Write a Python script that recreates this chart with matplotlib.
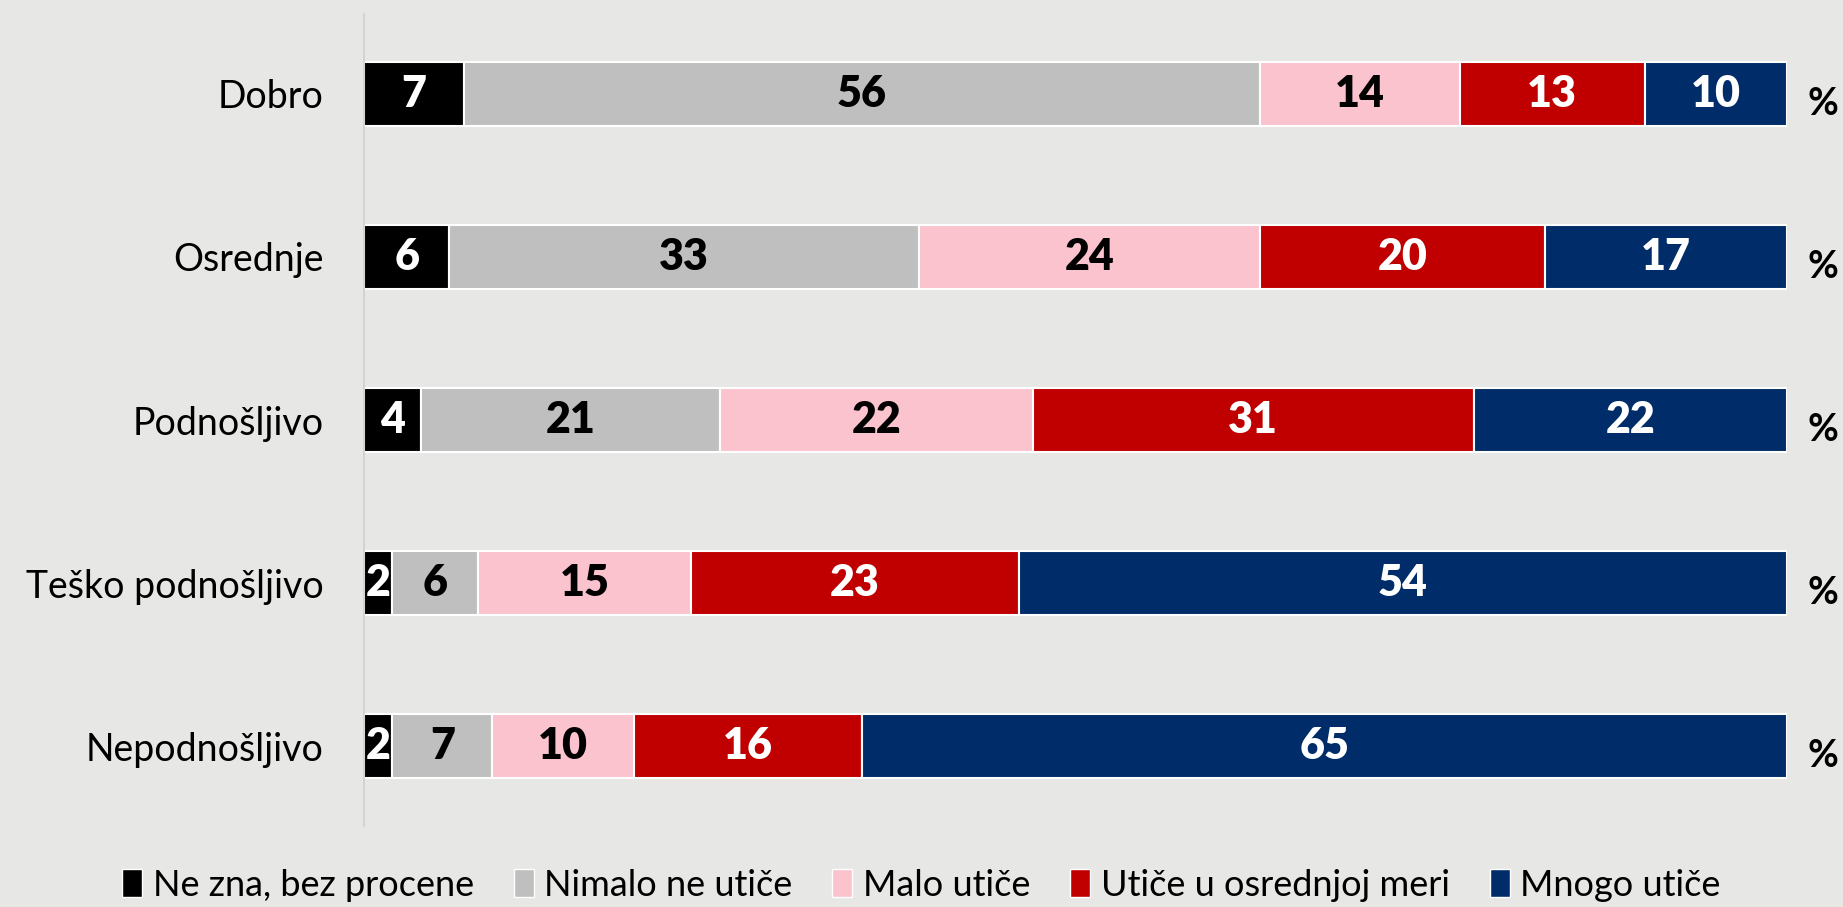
import matplotlib.pyplot as plt
import matplotlib.patches as mpatches
import numpy as np

categories = ["Dobro", "Osrednje", "Podnošljivo", "Teško podnošljivo", "Nepodnošljivo"]
series_names = ["Ne zna, bez procene", "Nimalo ne utiče", "Malo utiče",
                "Utiče u osrednjoj meri", "Mnogo utiče"]
ne_zna = [7, 6, 4, 2, 2]
nimalo = [56, 33, 21, 6, 7]
malo = [14, 24, 22, 15, 10]
osrednje = [13, 20, 31, 23, 16]
mnogo = [10, 17, 22, 54, 65]

colours = ["#000000", "#BFBFBF", "#FBC3CE", "#C00000", "#002D6A"]
text_colours = ["white", "black", "black", "white", "white"]
bg = "#E7E7E5"

plt.rcParams["font.family"] = ["Lato", "DejaVu Sans"]

fig = plt.figure(figsize=(18.43, 9.07), dpi=100, facecolor=bg)
ax = fig.add_axes([364 / 1843, 1 - 826 / 907, (1787 - 364) / 1843, (826 - 14) / 907])
ax.set_facecolor(bg)

values = [ne_zna, nimalo, malo, osrednje, mnogo]
y = np.arange(len(categories))
left = np.zeros(len(categories))
for vals, name, col, tcol in zip(values, series_names, colours, text_colours):
    vals = np.array(vals, dtype=float)
    ax.barh(y, vals, left=left, height=0.39, color=col, edgecolor="white",
            linewidth=1.5, label=name)
    for yi, (l, v) in enumerate(zip(left, vals)):
        ax.text(l + v / 2, yi, f"{int(v)}", ha="center", va="center",
                color=tcol, fontsize=31, fontweight="heavy")
    left += vals

for yi in y:
    ax.text(102.5, yi + 0.06, "%", ha="center", va="center", fontsize=27,
            fontweight="bold", color="black")

ax.set_xlim(0, 100)
ax.set_ylim(4.49, -0.49)
ax.set_yticks(y)
ax.set_yticklabels(categories, fontsize=27)
ax.tick_params(axis="y", length=0, pad=29)
ax.set_xticks([])
for s in ["top", "right", "bottom"]:
    ax.spines[s].set_visible(False)
ax.spines["left"].set_color("#D0D0D0")
ax.spines["left"].set_linewidth(1.2)

handles = [mpatches.Patch(facecolor=c, edgecolor="white", linewidth=1, label=n)
           for c, n in zip(colours, series_names)]
fig.legend(handles=handles, loc="center", bbox_to_anchor=(0.5, 1 - 885 / 907),
           ncol=5, frameon=False, fontsize=26, handlelength=0.55, handleheight=0.8,
           handletextpad=0.3, columnspacing=1.1)

fig.savefig("out.png", dpi=100, facecolor=bg)
